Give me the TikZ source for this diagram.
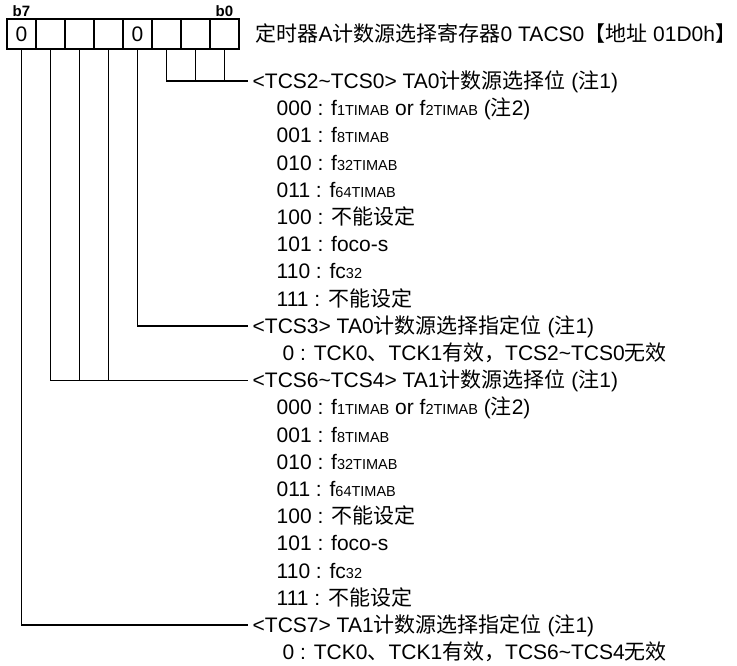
\documentclass[tikz,border=0pt]{standalone}
\usepackage{fontspec}
\setmainfont{Liberation Sans}
\newfontfamily\cjk{Noto Sans CJK SC}
\usetikzlibrary{positioning}
% small part of a clock name
\newcommand{\sm}[1]{{\fontsize{14.5}{14.5}\selectfont #1}}

\begin{document}
\begin{tikzpicture}[x=1pt, y=-1pt, line width=1.4pt,
    every node/.style={font=\fontsize{21}{24}\selectfont},
    cell/.style={draw, minimum width=29pt, minimum height=30pt, inner sep=0pt, outer sep=0pt},
    bitlabel/.style={font=\fontsize{15}{15}\selectfont\bfseries, inner sep=0pt},
    head/.style={anchor=west, inner xsep=4pt, inner ysep=0pt, text height=15pt, text depth=0pt},
    item/.style={anchor=west, inner sep=0pt, text height=15pt, text depth=0pt}]
    \useasboundingbox (0,0) rectangle (737,665);

    % Draw the register
    \node[cell] (c7) at (21.5,34) {0};
    \node[cell] (c6) at (50.5,34) {};
    \node[cell] (c5) at (79.5,34) {};
    \node[cell] (c4) at (108.5,34) {};
    \node[cell] (c3) at (137.5,34) {0};
    \node[cell] (c2) at (166.5,34) {};
    \node[cell] (c1) at (195.5,34) {};
    \node[cell] (c0) at (224.5,34) {};

    \node[bitlabel, above=2pt of c7] (b7) {b7};
    \node[bitlabel, above=2pt of c0] (b0) {b0};

    \node[item] (title) at (255,34) {{\cjk 定时器}A{\cjk 计数源选择寄存器}0 TACS0{\cjk 【地址} 01D0h{\cjk 】}};

    % TA0 count source
    \node[head] (tcsa) at (248,81) {<TCS2\textasciitilde TCS0> TA0{\cjk 计数源选择位} ({\cjk 注}1)};
    \node[item] (a0) at (276,108.2) {000 : f\sm{1TIMAB} or f\sm{2TIMAB} ({\cjk 注}2)};
    \node[item] (a1) at (276,135.4) {001 : f\sm{8TIMAB}};
    \node[item] (a2) at (276,162.6) {010 : f\sm{32TIMAB}};
    \node[item] (a3) at (276,189.8) {011 : f\sm{64TIMAB}};
    \node[item] (a4) at (276,217) {100 : {\cjk 不能设定}};
    \node[item] (a5) at (276,244.2) {101 : foco-s};
    \node[item] (a6) at (276,271.4) {110 : fc\sm{32}};
    \node[item] (a7) at (276,298.6) {111 : {\cjk 不能设定}};

    \node[head] (tcsb) at (248,325.8) {<TCS3> TA0{\cjk 计数源选择指定位} ({\cjk 注}1)};
    \node[item] (b) at (282,353) {0 : TCK0{\cjk 、}TCK1{\cjk 有效，}TCS2\textasciitilde TCS0{\cjk 无效}};

    % TA1 count source
    \node[head] (tcsc) at (248,380.2) {<TCS6\textasciitilde TCS4> TA1{\cjk 计数源选择位} ({\cjk 注}1)};
    \node[item] (c0i) at (276,407.4) {000 : f\sm{1TIMAB} or f\sm{2TIMAB} ({\cjk 注}2)};
    \node[item] (c1i) at (276,434.6) {001 : f\sm{8TIMAB}};
    \node[item] (c2i) at (276,461.8) {010 : f\sm{32TIMAB}};
    \node[item] (c3i) at (276,489) {011 : f\sm{64TIMAB}};
    \node[item] (c4i) at (276,516.2) {100 : {\cjk 不能设定}};
    \node[item] (c5i) at (276,543.4) {101 : foco-s};
    \node[item] (c6i) at (276,570.6) {110 : fc\sm{32}};
    \node[item] (c7i) at (276,597.8) {111 : {\cjk 不能设定}};

    \node[head] (tcsd) at (248,625) {<TCS7> TA1{\cjk 计数源选择指定位} ({\cjk 注}1)};
    \node[item] (d) at (282,652.2) {0 : TCK0{\cjk 、}TCK1{\cjk 有效，}TCS6\textasciitilde TCS4{\cjk 无效}};

    % Draw the lines from the bits to their texts
    \draw (c2.south) |- (tcsa.west);
    \draw (c1.south) -- (c1.south |- tcsa.west);
    \draw (c0.south) -- (c0.south |- tcsa.west);

    \draw (c3.south) |- (tcsb.west);

    \draw (c6.south) |- (tcsc.west);
    \draw (c5.south) -- (c5.south |- tcsc.west);
    \draw (c4.south) -- (c4.south |- tcsc.west);

    \draw (c7.south) |- (tcsd.west);
\end{tikzpicture}
\end{document}
